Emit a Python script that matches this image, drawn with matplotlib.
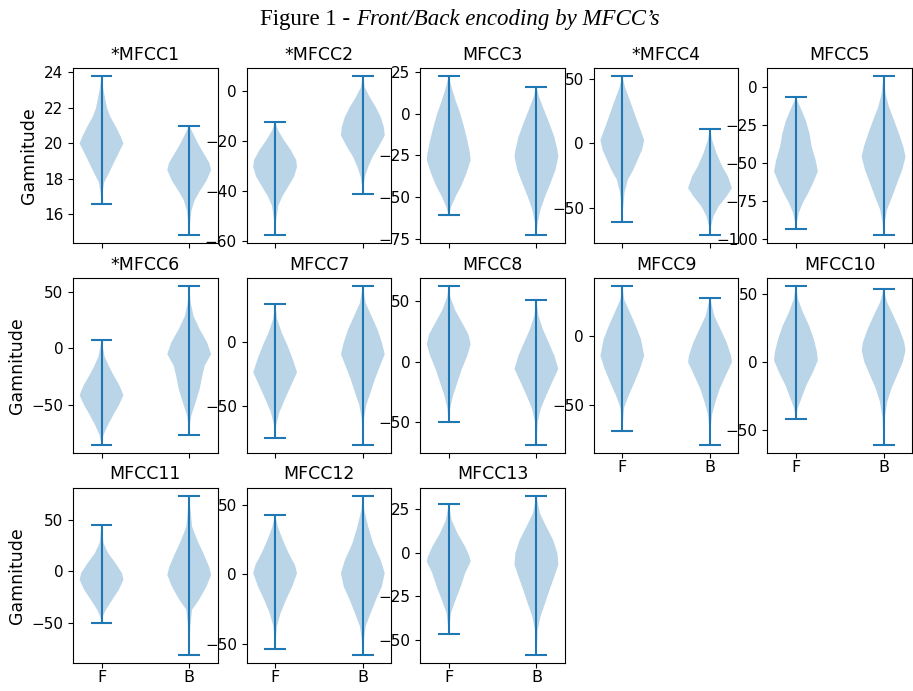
import numpy as np
import matplotlib
matplotlib.use("Agg")
import matplotlib.pyplot as plt

# MFCC front/back violin plots, shapes
titles = ["*MFCC1", "*MFCC2", "MFCC3", "*MFCC4", "MFCC5",
          "*MFCC6", "MFCC7", "MFCC8", "MFCC9", "MFCC10",
          "MFCC11", "MFCC12", "MFCC13"]
groups = ["F", "B"]

f_min = [16.6, -57.5, -61.0, -60.6, -93.0, -84.6, -74.4, -50.4, -68.3, -42.0, -50.5, -53.8, -46.8]
f_max = [23.8, -12.5, 22.8, 52.0, -6.5, 7.2, 29.5, 63.0, 36.0, 55.8, 45.6, 42.6, 27.7]
b_min = [14.84, -41.0, -72.8, -70.5, -97.2, -76.0, -80.0, -69.0, -78.6, -60.7, -81.4, -58.0, -58.6]
b_max = [21.0, 5.9, 16.3, 11.5, 7.6, 55.0, 43.6, 51.0, 27.4, 53.4, 74.0, 56.5, 32.6]

# density profile: levels (value) and relative half-widths
f_levels = [
    [17.2, 17.8, 18.3, 18.9, 19.4, 20.0, 20.4, 20.9, 21.5, 22.0, 23.0],
    [-51.3, -46, -42.1, -38.2, -34.2, -30.3, -27.6, -23.7, -19.7, -15.8],
    [-55.6, -49.6, -43.7, -35.7, -27.8, -23.8, -15.9, -7.9, 0, 7.9, 15.9],
    [-51, -38, -28, -20.4, -12.7, -5, 2.5, 12.7, 23, 33, 43],
    [-89, -82.6, -76, -69.6, -63, -55.4, -47.8, -39, -30.4, -21.7, -13],
    [-76, -67, -58.6, -49.9, -41, -32.5, -23.8, -15, -6.4],
    [-64.6, -54.4, -44, -33.8, -23.6, -13.3, -3, 7.2, 17.4],
    [-39, -28, -17, -6, 5, 14.5, 22.7, 32, 43, 54],
    [-52, -43, -33.3, -23.8, -14.3, -2.4, 7, 16.7, 26],
    [-34, -26.7, -17, -7.3, 1.2, 7.3, 17, 26.7, 36.4, 46],
    [-44, -37.5, -27.7, -18, -8, -1.6, 8, 18, 27.7],
    [-37.6, -28, -18.4, -8.9, 0.7, 6.7, 15, 24.6, 34],
    [-42.4, -34.7, -27, -19.5, -11.8, -5.2, -2.3, 3.4, 11, 18.7],
]
f_widths = [
    [0.04, 0.12, 0.33, 0.56, 0.76, 1.0, 0.87, 0.67, 0.4, 0.25, 0.09],
    [0.05, 0.14, 0.33, 0.6, 0.87, 1.0, 0.96, 0.72, 0.4, 0.14],
    [0.12, 0.32, 0.56, 0.81, 1.0, 0.97, 0.85, 0.7, 0.53, 0.32, 0.13],
    [0.03, 0.1, 0.25, 0.5, 0.7, 0.9, 1.0, 0.78, 0.56, 0.35, 0.13],
    [0.04, 0.13, 0.32, 0.56, 0.78, 1.0, 0.9, 0.72, 0.62, 0.45, 0.2],
    [0.09, 0.3, 0.53, 0.79, 1.0, 0.82, 0.56, 0.32, 0.13],
    [0.05, 0.2, 0.46, 0.73, 1.0, 0.8, 0.57, 0.3, 0.1],
    [0.06, 0.2, 0.4, 0.6, 0.85, 1.0, 0.9, 0.62, 0.29, 0.07],
    [0.08, 0.29, 0.56, 0.81, 1.0, 0.85, 0.62, 0.35, 0.09],
    [0.08, 0.25, 0.48, 0.78, 1.0, 0.96, 0.81, 0.6, 0.32, 0.1],
    [0.06, 0.2, 0.49, 0.79, 1.0, 0.93, 0.64, 0.3, 0.09],
    [0.08, 0.25, 0.5, 0.78, 1.0, 0.9, 0.62, 0.35, 0.13],
    [0.03, 0.1, 0.32, 0.55, 0.75, 1.0, 0.95, 0.75, 0.4, 0.13],
]
b_levels = [
    [15.4, 16.2, 16.8, 17.3, 17.9, 18.5, 18.9, 19.4, 20.0, 20.6],
    [-38.2, -34.2, -30.3, -26.3, -22.4, -17.8, -14.5, -10.5, -6.6, -2.6, 1.3],
    [-65.5, -57.5, -49.6, -41.7, -33.7, -25.8, -21.8, -13.9, -6, 2, 9.9],
    [-63.6, -56, -48.3, -40.7, -34.4, -25.4, -17.8, -7.6, 2.5],
    [-89, -80.4, -71.7, -63, -54.3, -45.7, -39, -30.4, -21.7, -13, -4.3],
    [-67, -58.6, -47, -35.4, -23.8, -15, -5, 5.2, 16.8, 28.4, 40],
    [-59.5, -49, -39, -28.7, -18.5, -9.5, -0.5, 9.7, 20, 30.3],
    [-50, -39, -28, -17, -6, 5, 16, 26.8, 37.8],
    [-66.7, -57, -47.6, -38, -28.6, -19, -14.3, -4.8, 4.8, 14.3],
    [-41, -29, -19.4, -9.7, 0, 8.5, 14.6, 24.3, 34, 43.7],
    [-70, -53.7, -37.5, -27.7, -14.7, -3.3, 5, 18, 31, 44],
    [-47, -37.6, -28, -18.4, -8.9, 0.7, 10, 22, 34, 46],
    [-44.3, -36.6, -29, -21.4, -13.7, -7, -0.4, 7.3, 14.9, 22.5],
]
b_widths = [
    [0.03, 0.1, 0.25, 0.48, 0.79, 1.0, 0.92, 0.68, 0.4, 0.16],
    [0.03, 0.1, 0.25, 0.45, 0.72, 1.0, 0.96, 0.82, 0.6, 0.32, 0.09],
    [0.06, 0.19, 0.4, 0.64, 0.87, 1.0, 0.96, 0.82, 0.6, 0.36, 0.13],
    [0.05, 0.16, 0.4, 0.76, 1.0, 0.82, 0.56, 0.3, 0.1],
    [0.05, 0.16, 0.4, 0.62, 0.85, 1.0, 0.9, 0.7, 0.48, 0.25, 0.09],
    [0.03, 0.1, 0.3, 0.48, 0.6, 0.71, 1.0, 0.82, 0.48, 0.2, 0.07],
    [0.05, 0.16, 0.36, 0.56, 0.79, 1.0, 0.87, 0.67, 0.4, 0.13],
    [0.06, 0.2, 0.45, 0.72, 1.0, 0.82, 0.56, 0.3, 0.1],
    [0.03, 0.09, 0.25, 0.45, 0.72, 1.0, 0.96, 0.76, 0.48, 0.2],
    [0.05, 0.17, 0.36, 0.62, 0.88, 1.0, 0.94, 0.72, 0.45, 0.16],
    [0.015, 0.05, 0.13, 0.45, 0.79, 1.0, 0.9, 0.64, 0.36, 0.13],
    [0.05, 0.13, 0.36, 0.6, 0.87, 1.0, 0.82, 0.48, 0.25, 0.07],
    [0.06, 0.19, 0.4, 0.6, 0.82, 1.0, 0.96, 0.76, 0.45, 0.16],
]


def vstats(lo, hi, levels, widths):
    coords = np.array([lo] + levels + [hi], dtype=float)
    vals = np.array([0.0] + widths + [0.0])
    peak = coords[np.argmax(vals)]
    return dict(coords=coords, vals=vals, mean=peak, median=peak, min=lo, max=hi)


fig, axes = plt.subplots(3, 5, figsize=(9.13, 6.91), dpi=100)
fig.subplots_adjust(left=0.08, right=0.999, top=0.9016, bottom=0.041,
                    wspace=0.2, hspace=0.2)

for i, title in enumerate(titles):
    ax = axes.flat[i]
    st = [vstats(f_min[i], f_max[i], f_levels[i], f_widths[i]),
          vstats(b_min[i], b_max[i], b_levels[i], b_widths[i])]
    ax.violin(st, positions=[1, 2])
    ax.set_title(title, fontsize=12.5)
    ax.set_xticks([1, 2])
    row, col = divmod(i, 5)
    if i + 5 >= len(titles):
        ax.set_xticklabels(groups, fontsize=11.5)
        ax.tick_params(axis="x", pad=2)
    else:
        ax.set_xticklabels([])
    if col == 0:
        ax.set_ylabel("Gamnitude", fontsize=12.5)
    ax.tick_params(axis="y", labelsize=11)

for ax in axes.flat[len(titles):]:
    ax.remove()

# figure caption: plain + italic part
t1 = fig.text(0.285, 0.956, "Figure 1 - ", fontfamily="Liberation Serif",
              fontsize=16.5, va="bottom", ha="left")
axes.flat[0].annotate("Front/Back encoding by MFCC\u2019s", xy=(1, 0), xycoords=t1,
                      va="bottom", ha="left", fontfamily="Liberation Serif",
                      fontsize=16.5, fontstyle="italic", annotation_clip=False)

fig.savefig("out.png", dpi=100)
